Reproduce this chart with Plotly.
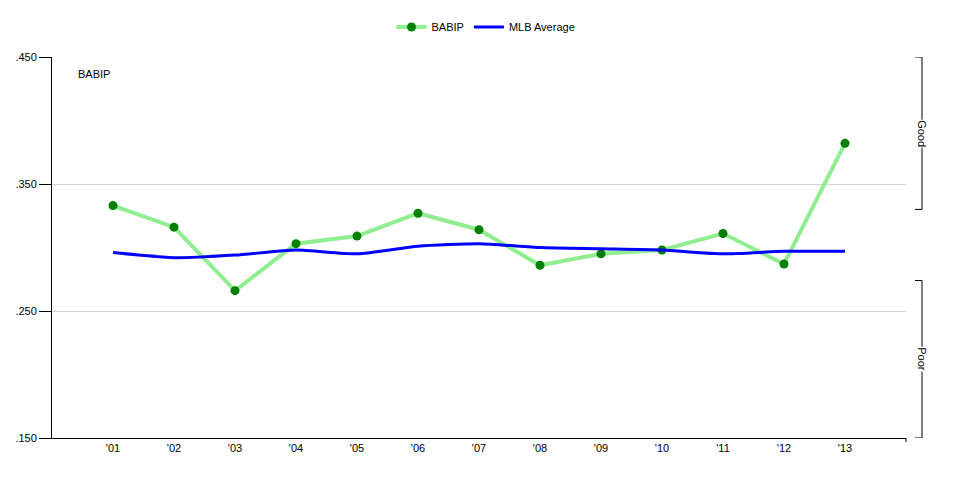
import plotly.graph_objects as go

years = ["'01", "'02", "'03", "'04", "'05", "'06", "'07", "'08", "'09", "'10", "'11", "'12", "'13"]
babip = [0.333, 0.316, 0.266, 0.303, 0.309, 0.327, 0.314, 0.286, 0.295, 0.298, 0.311, 0.287, 0.382]
mlb_avg = [0.296, 0.292, 0.294, 0.298, 0.295, 0.301, 0.303, 0.300, 0.299, 0.298, 0.295, 0.297, 0.297]
y_ticks = [0.150, 0.250, 0.350, 0.450]
y_ticktext = [".150", ".250", ".350", ".450"]
good_range = [0.330, 0.450]
poor_range = [0.150, 0.274]

xpos = list(range(1, len(years) + 1))
FONT = "Liberation Sans, Arial, sans-serif"

fig = go.Figure()
fig.add_trace(go.Scatter(
    x=xpos, y=babip, name="BABIP", mode="lines+markers",
    line=dict(color="#90EE90", width=4),
    marker=dict(color="#008000", size=9),
))
fig.add_trace(go.Scatter(
    x=xpos, y=mlb_avg, name="MLB Average", mode="lines",
    line=dict(color="#0000FF", width=3, shape="spline", smoothing=0.6),
))

W, H = 980, 490
L, R, T, B = 52, 74, 57, 52
pw = W - L - R
ph = H - T - B

def px_x(p):
    return (p - L) / pw

fig.update_layout(
    width=W, height=H,
    margin=dict(l=L, r=R, t=T, b=B, pad=0),
    paper_bgcolor="white", plot_bgcolor="white",
    font=dict(family=FONT, size=11, color="black"),
    showlegend=True,
    legend=dict(orientation="h", x=px_x(486), xanchor="center", y=1 + (T - 27) / ph,
                yanchor="middle", font=dict(size=11), itemwidth=30,
                bgcolor="rgba(0,0,0,0)"),
    xaxis=dict(range=[0, len(years) + 1], tickvals=xpos, ticktext=years,
               showgrid=False, zeroline=False, showline=True, linecolor="black",
               linewidth=1, ticks="", tickfont=dict(size=11)),
    yaxis=dict(range=[0.150, 0.450], tickvals=y_ticks, ticktext=y_ticktext,
               showgrid=True, gridcolor="#D3D3D3", gridwidth=1, zeroline=False,
               showline=True, linecolor="black", linewidth=1,
               ticks="outside", ticklen=12, tickcolor="black", tickfont=dict(size=11)),
)

fig.add_annotation(text="BABIP", xref="paper", yref="paper", x=px_x(76), y=1 - (74 - T) / ph,
                   xanchor="left", yanchor="middle", showarrow=False, font=dict(size=11))

# end tick on x axis
fig.add_shape(type="line", xref="paper", yref="paper", x0=1, x1=1, y0=0, y1=-4 / ph,
              line=dict(color="black", width=1))

# Good / Poor brackets
bx0, bx1 = px_x(915), px_x(922)
for rng, label in [(good_range, "Good"), (poor_range, "Poor")]:
    lo, hi = rng
    fig.add_shape(type="line", xref="paper", yref="y", x0=bx0, x1=bx1, y0=hi, y1=hi,
                  line=dict(color="black", width=1))
    fig.add_shape(type="line", xref="paper", yref="y", x0=bx1, x1=bx1, y0=lo, y1=hi,
                  line=dict(color="black", width=1))
    fig.add_shape(type="line", xref="paper", yref="y", x0=bx0, x1=bx1, y0=lo, y1=lo,
                  line=dict(color="black", width=1))
    fig.add_annotation(text=label, xref="paper", yref="y", x=bx1, y=(lo + hi) / 2,
                       xanchor="center", yanchor="middle",
                       textangle=90, showarrow=False, bgcolor="white",
                       font=dict(size=11), borderpad=0)

fig.write_html("out.html", config={"displayModeBar": False},
               post_script="document.body.style.margin='0';")
